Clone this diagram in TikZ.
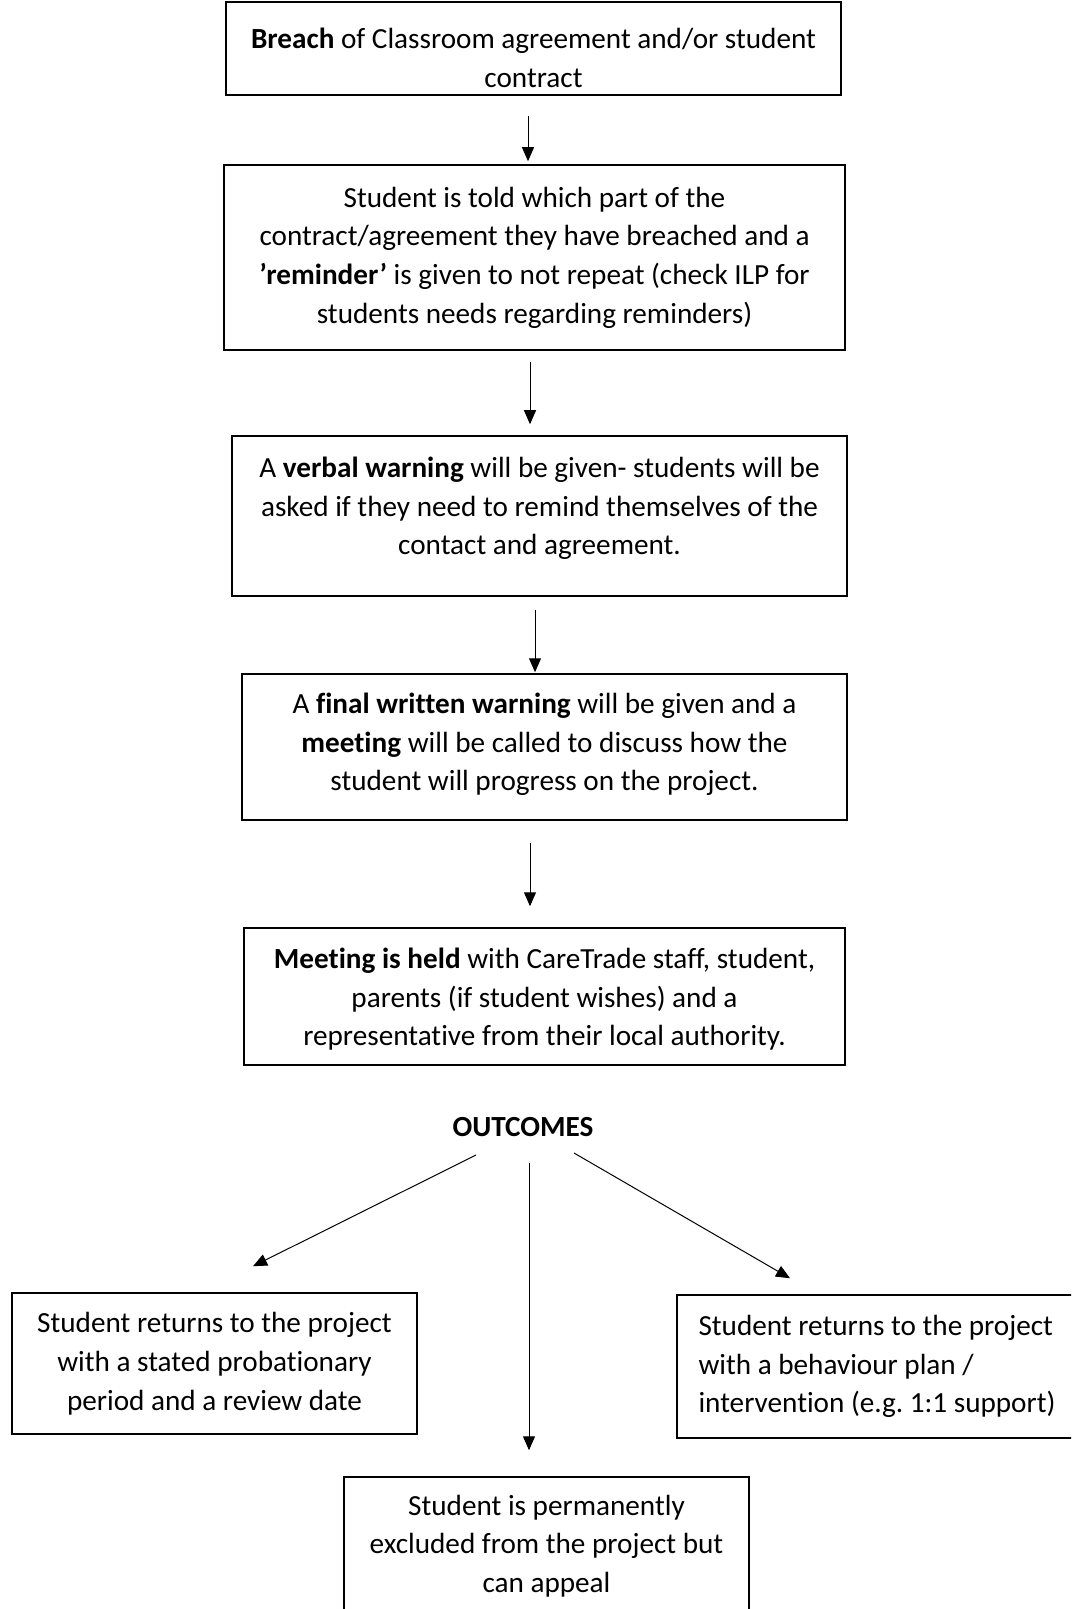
\documentclass[tikz,border=0pt]{standalone}
\usepackage{fontspec}
\setmainfont{Carlito}[Ligatures=NoCommon]
\usepackage{tikz}
\usetikzlibrary{calc,arrows.meta}

\begin{document}
\begin{tikzpicture}[x=0.5pt,y=-0.5pt,
  stepbox/.style={draw,line width=0.75pt,inner sep=0pt,align=center,
    font=\fontsize{14.6}{19.35}\selectfont},
  flow/.style={line width=0.5pt,-{Triangle[width=6pt,length=7pt]}}]
  \def\px{0.5pt}
  \frenchspacing
  \clip (0,0) rectangle (1071,1609);

  % main steps
  \node[stepbox,minimum width=615*\px,minimum height=93*\px] (breach) at (533.5,48.5)
    {\rule{0pt}{19.5pt}\textbf{Breach} of Classroom agreement and/or student\\contract};
  \node[stepbox,minimum width=621*\px,minimum height=185*\px] (told) at (534.5,257.5)
    {Student is told which part of the\\contract/agreement they have breached and a\\
     \textbf{’reminder’} is given to not repeat (check ILP for\\students needs regarding reminders)};
  \node[stepbox,minimum width=615*\px,minimum height=160*\px] (warn) at (539.5,516)
    {A \textbf{verbal warning} will be given- students will be\\asked if they need to remind themselves of the\\
     contact and agreement.\rule[-10pt]{0pt}{10pt}};
  \node[stepbox,minimum width=605*\px,minimum height=146*\px] (final) at (544.5,747)
    {A \textbf{final written warning} will be given and a\\\textbf{meeting} will be called to discuss how the\\
     student will progress on the project.\rule[-5pt]{0pt}{5pt}};
  \node[stepbox,minimum width=601*\px,minimum height=137*\px] (held) at (544.5,996.5)
    {\rule{0pt}{13pt}\textbf{Meeting is held} with CareTrade staff, student,\\parents (if student wishes) and a\\representative from their local authority.};

  \node[font=\fontsize{14.6}{19.35}\selectfont\bfseries] (outcomes) at (523,1127) {OUTCOMES};

  % outcomes
  \node[stepbox,minimum width=405*\px,minimum height=141*\px] (probation) at (214.5,1363.5)
    {Student returns to the project\\with a stated probationary\\period and a review date};
  \node[stepbox,minimum width=400*\px,minimum height=143*\px,align=left] (plan) at (877,1366.5)
    {Student returns to the project\\with a behaviour plan /\\intervention (e.g. 1:1 support)};
  \node[stepbox,minimum width=405*\px,minimum height=138*\px] (appeal) at (546.5,1546)
    {Student is permanently\\excluded from the project but\\can appeal};

  % arrows
  \draw[flow] ($(breach.south)+(-5.5,20)$) -- ($(told.north)+(-6.5,-3)$);
  \draw[flow] ($(told.south)+(-4.5,11)$) -- ($(warn.north)+(-9.5,-11)$);
  \draw[flow] ($(warn.south)+(-4.5,13)$) -- ($(final.north)+(-9.5,-1)$);
  \draw[flow] ($(final.south)+(-14.5,22)$) -- ($(held.north)+(-14.5,-21)$);

  \draw[flow] ($(outcomes)+(-47,28)$) -- ($(probation.north)+(38.5,-26)$);
  \draw[flow] ($(outcomes)+(6,36)$) -- ($(appeal.north)+(-17.5,-26)$);
  \draw[flow] ($(outcomes)+(51,26)$) -- ($(plan.north)+(-87,-16)$);

\end{tikzpicture}
\end{document}
